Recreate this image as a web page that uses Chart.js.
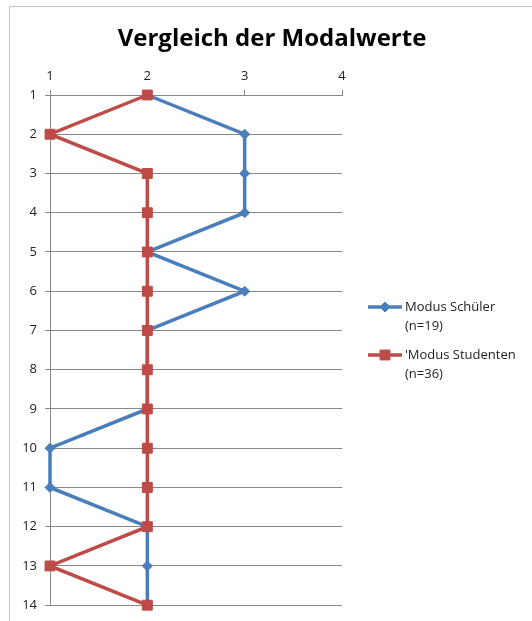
<!DOCTYPE html>
<html>
<head>
<meta charset="utf-8">
<script src="https://cdn.jsdelivr.net/npm/chart.js@4/dist/chart.umd.min.js"></script>
<style>
  html, body { margin: 0; padding: 0; background: #fff; overflow: hidden; }
  #frame { position: absolute; left: 9px; top: 6px; width: 700px; height: 800px; border: 1px solid #c4c4c4; }
  #wrap { position: absolute; left: 0; top: 0; width: 532px; height: 621px; }
</style>
</head>
<body>
<div id="frame"></div>
<div id="wrap"><canvas id="c" width="532" height="621"></canvas></div>
<script>
// Item numbers (rows, top to bottom)
const categories = ['1','2','3','4','5','6','7','8','9','10','11','12','13','14'];
// Modal value per item
const modusSchueler  = [2, 3, 3, 3, 2, 3, 2, 2, 2, 1, 1, 2, 2, 2];
const modusStudenten = [2, 1, 2, 2, 2, 2, 2, 2, 2, 2, 2, 2, 1, 2];
// Legend texts
const labelSchueler  = ['Modus Schüler', '(n=19)'];
const labelStudenten = ["'Modus Studenten", '(n=36)'];
// Chart title
const chartTitle = 'Vergleich der Modalwerte';
// Value axis range
const valueMin = 1, valueMax = 4, valueStep = 1;

const FONT = '"Open Sans", "Liberation Sans", sans-serif';
const GRID = '#878787';

// Title centred over the whole chart object (plot plus legend)
const wideTitle = {
  id: 'wideTitle',
  afterDraw(chart, args, opts) {
    const ctx = chart.ctx;
    ctx.save();
    ctx.fillStyle = '#000';
    ctx.font = 'bold ' + opts.fontSize + 'px ' + FONT;
    ctx.textAlign = 'center';
    ctx.textBaseline = 'alphabetic';
    ctx.fillText(opts.text, opts.x, opts.y);
    ctx.restore();
  }
};

// Excel-style legend: short line with marker, multi-line text
const sideLegend = {
  id: 'sideLegend',
  afterDraw(chart, args, opts) {
    const ctx = chart.ctx;
    chart.data.datasets.forEach((ds, i) => {
      const y = opts.top + i * opts.gap;
      ctx.save();
      ctx.strokeStyle = ds.borderColor;
      ctx.lineWidth = ds.borderWidth;
      ctx.beginPath();
      ctx.moveTo(opts.left, y);
      ctx.lineTo(opts.left + opts.lineLen, y);
      ctx.stroke();
      ctx.fillStyle = ds.pointBackgroundColor;
      ctx.strokeStyle = ds.pointBorderColor;
      ctx.lineWidth = 1;
      Chart.helpers.drawPoint(ctx, { pointStyle: ds.pointStyle, radius: ds.pointRadius, borderWidth: 1, rotation: 0 },
        opts.left + opts.lineLen / 2, y);
      ctx.fillStyle = '#222';
      ctx.font = opts.fontSize + 'px ' + FONT;
      ctx.textBaseline = 'middle';
      ctx.textAlign = 'left';
      ds.label.forEach((t, k) => ctx.fillText(t, opts.left + opts.lineLen + 3, y + k * opts.lineHeight));
      ctx.restore();
    });
  }
};

new Chart(document.getElementById('c'), {
  type: 'line',
  data: {
    labels: categories,
    datasets: [
      {
        label: labelSchueler,
        data: modusSchueler,
        borderColor: '#4A7EBB',
        backgroundColor: '#4A7EBB',
        pointBackgroundColor: '#4A7EBB',
        pointBorderColor: '#4A7EBB',
        borderWidth: 3.5,
        pointStyle: 'rectRot',
        pointRadius: 5,
        pointBorderWidth: 1,
        tension: 0,
        clip: false,
        order: 1
      },
      {
        label: labelStudenten,
        data: modusStudenten,
        borderColor: '#BE4B48',
        backgroundColor: '#BE4B48',
        pointBackgroundColor: '#BE4B48',
        pointBorderColor: '#BE4B48',
        borderWidth: 3.5,
        pointStyle: 'rect',
        pointRadius: 7,
        pointBorderWidth: 1,
        tension: 0,
        clip: false,
        order: 0
      }
    ]
  },
  options: {
    indexAxis: 'y',
    responsive: false,
    animation: false,
    devicePixelRatio: 1,
    layout: { padding: { left: 0, right: 190, top: 51, bottom: 14 } },
    plugins: {
      legend: { display: false },
      tooltip: { enabled: false },
      title: { display: false },
      wideTitle: { text: chartTitle, x: 272, y: 46, fontSize: 24 },
      sideLegend: { left: 368, top: 307, gap: 48, lineLen: 34, lineHeight: 19, fontSize: 13 }
    },
    scales: {
      x: {
        type: 'linear',
        position: 'top',
        min: valueMin,
        max: valueMax,
        ticks: { stepSize: valueStep, color: '#222', padding: 6, font: { family: FONT, size: 13 } },
        grid: { drawOnChartArea: false, drawTicks: true, tickLength: 5, color: GRID },
        border: { display: true, color: GRID },
        afterFit(scale) { scale.height = 44; }
      },
      y: {
        type: 'category',
        offset: false,
        ticks: { color: '#222', padding: 8, font: { family: FONT, size: 13 } },
        grid: { color: GRID, tickLength: 5, drawTicks: true },
        border: { display: true, color: GRID },
        afterFit(scale) { scale.width = 50; }
      }
    }
  },
  plugins: [wideTitle, sideLegend]
});
</script>
</body>
</html>
